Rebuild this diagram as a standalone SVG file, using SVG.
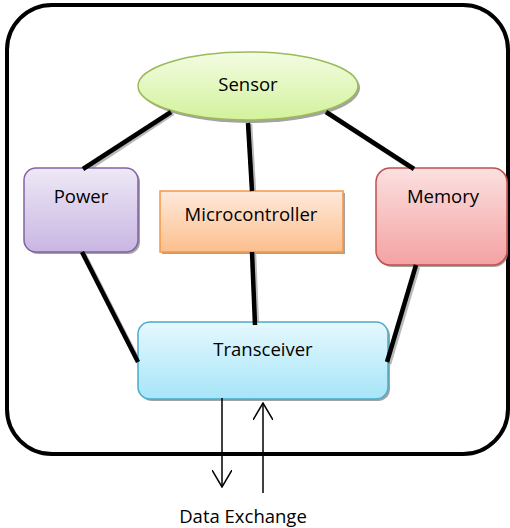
<svg xmlns="http://www.w3.org/2000/svg" width="510" height="528" viewBox="0 0 510 528">
<defs>
<linearGradient id="gS" x1="0" y1="0" x2="0" y2="1"><stop offset="0" stop-color="#f3fce2"/><stop offset="1" stop-color="#d3f29c"/></linearGradient>
<linearGradient id="gP" x1="0" y1="0" x2="0" y2="1"><stop offset="0" stop-color="#eee8f6"/><stop offset="1" stop-color="#c8b6e2"/></linearGradient>
<linearGradient id="gM" x1="0" y1="0" x2="0" y2="1"><stop offset="0" stop-color="#fee9db"/><stop offset="1" stop-color="#fcbf8d"/></linearGradient>
<linearGradient id="gR" x1="0" y1="0" x2="0" y2="1"><stop offset="0" stop-color="#fbe0e0"/><stop offset="1" stop-color="#f4a2a2"/></linearGradient>
<linearGradient id="gT" x1="0" y1="0" x2="0" y2="1"><stop offset="0" stop-color="#e6f8fe"/><stop offset="1" stop-color="#a6e5f8"/></linearGradient>
<marker id="open" markerWidth="18" markerHeight="20" refX="17" refY="10" orient="auto" markerUnits="userSpaceOnUse" viewBox="0 0 18 20">
<path d="M0,0 L17,10 L0,20" fill="none" stroke="#000" stroke-width="1.5"/>
</marker>
</defs>
<style>
text{font-family:"Open Sans","Liberation Sans",sans-serif;font-size:18.5px;fill:#000;text-anchor:middle;dominant-baseline:central}
.sh{fill:#8c8c8c;opacity:0.8}
.conn line{stroke:#000;stroke-width:4.5;stroke-linecap:butt}
.connsh line{stroke:#8c8c8c;stroke-width:4.5;opacity:0.6}
.arr line{stroke:#000;stroke-width:1.5}
</style>
<rect x="7" y="5" width="501" height="449" rx="45" ry="45" fill="#fff" stroke="#000" stroke-width="4"/>
<g class="connsh">
<line x1="173" y1="113" x2="85" y2="171"/>
<line x1="250" y1="124" x2="254" y2="192"/>
<line x1="328" y1="113" x2="416" y2="171"/>
<line x1="84" y1="254" x2="140" y2="364"/>
<line x1="254" y1="254" x2="257" y2="327"/>
<line x1="418" y1="267" x2="389" y2="364"/>
</g>
<g id="sensor">
<ellipse class="sh" cx="250" cy="88" rx="110" ry="35"/>
<ellipse cx="248" cy="86" rx="110" ry="34" fill="url(#gS)" stroke="#9bbb59" stroke-width="1.5"/>
<text x="248" y="83">Sensor</text>
</g>
<g id="power">
<rect class="sh" x="26" y="170" width="114" height="84" rx="12"/>
<rect x="24" y="168" width="114" height="84" rx="12" fill="url(#gP)" stroke="#8064a2" stroke-width="1.5"/>
<text x="81" y="195">Power</text>
</g>
<g id="microcontroller">
<rect class="sh" x="162" y="193" width="183" height="61"/>
<rect x="160" y="191" width="183" height="61" fill="url(#gM)" stroke="#f79646" stroke-width="1.5"/>
<text x="251" y="213">Microcontroller</text>
</g>
<g id="memory">
<rect class="sh" x="378" y="170" width="130" height="97" rx="14"/>
<rect x="376" y="168" width="131" height="97" rx="14" fill="url(#gR)" stroke="#c0504d" stroke-width="1.5"/>
<text x="443" y="195">Memory</text>
</g>
<g id="transceiver">
<rect class="sh" x="140" y="324" width="250" height="77" rx="12"/>
<rect x="138" y="322" width="250" height="77" rx="12" fill="url(#gT)" stroke="#4bacc6" stroke-width="1.5"/>
<text x="263" y="348">Transceiver</text>
</g>
<g class="conn">
<line x1="171" y1="112" x2="83" y2="169"/>
<line x1="248" y1="123" x2="252" y2="191"/>
<line x1="326" y1="112" x2="414" y2="169"/>
<line x1="82" y1="252" x2="138" y2="362"/>
<line x1="252" y1="252" x2="255" y2="325"/>
<line x1="416" y1="265" x2="387" y2="362"/>
</g>
<g class="arr">
<line x1="222" y1="398" x2="222" y2="487" marker-end="url(#open)"/>
<line x1="263" y1="493" x2="263" y2="403" marker-end="url(#open)"/>
</g>
<text x="243" y="515">Data Exchange</text>
</svg>
